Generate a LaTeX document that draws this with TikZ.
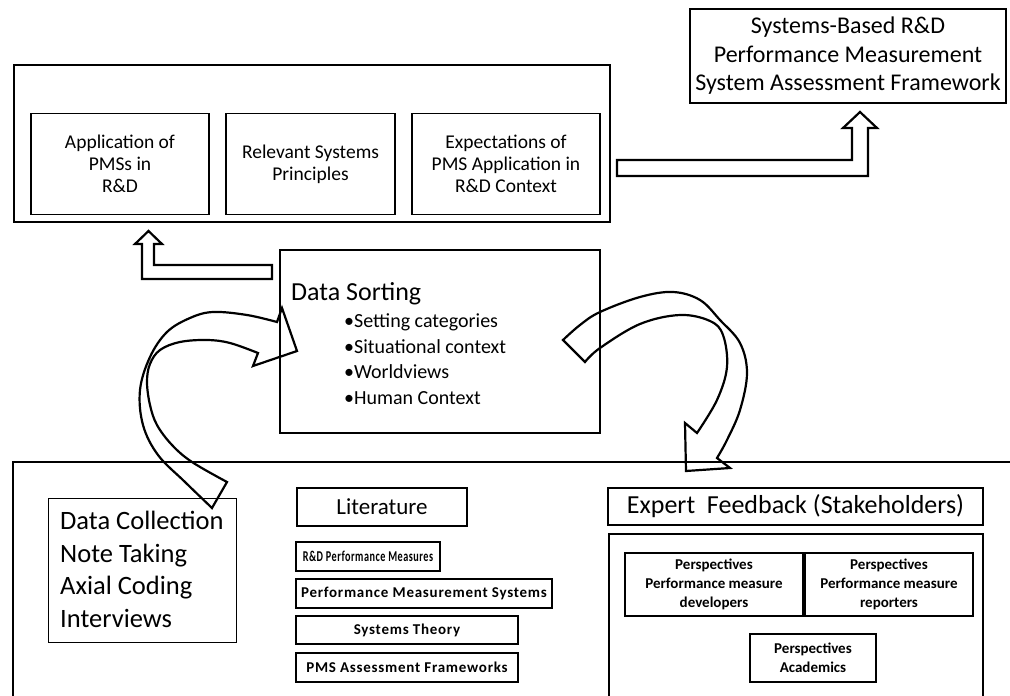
\documentclass[tikz,border=0pt]{standalone}
\usepackage{fontspec}
\setmainfont{Carlito}
\newfontfamily\litfont[LetterSpace=5]{Carlito}
\begin{document}
\begin{tikzpicture}[x=1pt,y=-1pt,
  box/.style={draw, line width=1.8pt, inner sep=0pt, align=center},
  thinbox/.style={draw, line width=0.9pt, inner sep=0pt},
  blockarrow/.style={draw, line width=2.2pt, line join=miter},
  ribbon/.style={draw, line width=2.2pt, line join=miter},
  txt/.style={inner sep=0pt, anchor=base west},
  small/.style={font=\bfseries\fontsize{15}{19}\selectfont},
  littxt/.style={font=\litfont\bfseries\fontsize{15}{19}\selectfont},
]
\useasboundingbox (0,0) rectangle (1010,696);
\clip (0,0) rectangle (1010,696);
\fill[white] (0,0) rectangle (1010,696);

% top group
\node[box, line width=2.2pt, minimum width=596, minimum height=157] (top) at (312,143.5) {};
\node[box, minimum width=178, minimum height=101, font=\fontsize{19.5}{22}\selectfont] (pms) at (120,164) {Application of\\PMSs in\\R\&D};
\node[box, minimum width=169, minimum height=101, font=\fontsize{19.5}{22}\selectfont] (rsp) at (310.5,164) {Relevant Systems\\Principles};
\node[box, minimum width=188, minimum height=101, font=\fontsize{19.5}{22}\selectfont] (exp) at (506,164) {Expectations of\\PMS Application in\\R\&D Context};

% framework box
\node[box, minimum width=316, minimum height=94, font=\fontsize{24}{28.5}\selectfont] (fw) at (848,56) {Systems-Based R\&D\\Performance Measurement\\System Assessment Framework};

% block arrow top -> framework
\draw[blockarrow] (617,160) -- (852,160) -- (852,128) -- (843,128) -- (860,112) -- (877,128) -- (868,128) -- (868,176) -- (617,176) -- cycle;

% block arrow data sorting -> top
\draw[blockarrow] (272,265) -- (154,265) -- (154,244) -- (162,244) -- (148.5,231) -- (135,244) -- (142,244) -- (142,279) -- (272,279) -- cycle;

% data sorting
\node[box, minimum width=320, minimum height=183] (ds) at (440,341.5) {};
\node[txt, font=\fontsize{26}{30}\selectfont] (dst) at (291,300) {Data Sorting};
\node[txt, font=\fontsize{20}{24}\selectfont] (ds1) at (344,327) {•Setting categories};
\node[txt, font=\fontsize{20}{24}\selectfont] (ds2) at (344,353) {•Situational context};
\node[txt, font=\fontsize{20}{24}\selectfont] (ds3) at (344,378) {•Worldviews};
\node[txt, font=\fontsize{20}{24}\selectfont] (ds4) at (344,404) {•Human Context};

% bottom group
\node[box, line width=2.2pt, minimum width=1007, minimum height=298] (bottom) at (516.5,611) {};
\node[thinbox, minimum width=188, minimum height=144] (dc) at (142,570) {};
\node[txt, font=\fontsize{26.5}{30}\selectfont] (dc1) at (60,529) {Data Collection};
\node[txt, font=\fontsize{26.5}{30}\selectfont] (dc2) at (60,562) {Note Taking};
\node[txt, font=\fontsize{26.5}{30}\selectfont] (dc3) at (60,594) {Axial Coding};
\node[txt, font=\fontsize{26.5}{30}\selectfont] (dc4) at (60,627) {Interviews};

\node[box, minimum width=170, minimum height=38, font=\fontsize{23}{26}\selectfont] (lit) at (382,507) {Literature};
\node[box, littxt, minimum width=144, minimum height=29] (l1) at (368,556.5) {\scalebox{0.68}[1]{R\&D Performance Measures}};
\node[box, littxt, minimum width=256, minimum height=29] (l2) at (424,593.5) {Performance Measurement Systems};
\node[box, littxt, minimum width=222, minimum height=28] (l3) at (407,630) {Systems Theory};
\node[box, littxt, minimum width=222, minimum height=29] (l4) at (407,667.5) {PMS Assessment Frameworks};

\node[box, minimum width=375, minimum height=37, font=\fontsize{26}{30}\selectfont] (ef) at (795.5,506.5) {Expert\ \ Feedback (Stakeholders)};
\node[box, minimum width=374, minimum height=226] (pers) at (796,647) {};
\node[box, small, minimum width=178, minimum height=63] (p1) at (714,584.5) {Perspectives\\Performance measure\\developers};
\node[box, small, minimum width=168, minimum height=63] (p2) at (889,584.5) {Perspectives\\Performance measure\\reporters};
\node[box, small, minimum width=126, minimum height=48] (p3) at (813,658) {Perspectives\\Academics};

% curved arrow: data collection -> data sorting
\draw[ribbon] plot[smooth, tension=0.6] coordinates {(212,508) (185,482) (158,455) (143,425) (140,390) (150,357) (167,332) (190,318) (213,312) (247,315) (277,322)}
  -- (282,308) -- (297,351) -- (253,366) -- (258,353)
  -- plot[smooth, tension=0.6] coordinates {(258,353) (230,343) (207,340) (180,342) (160,350) (150,364) (147,382) (150,405) (157,425) (172,445) (192,462) (227,482)}
  -- cycle;

% curved arrow: data sorting -> expert feedback
\draw[ribbon] plot[smooth, tension=0.6] coordinates {(563,340) (580,325) (600,312) (640,297) (673,292) (700,300) (720,320) (740,343) (747,373) (740,410) (727,440) (717,458)}
  -- (730,468) -- (686,471) -- (685,423) -- (697,433)
  -- plot[smooth, tension=0.6] coordinates {(697,433) (717,400) (727,367) (723,335) (710,321) (680,315) (640,324) (600,348) (585,362)}
  -- cycle;
\end{tikzpicture}
\end{document}
